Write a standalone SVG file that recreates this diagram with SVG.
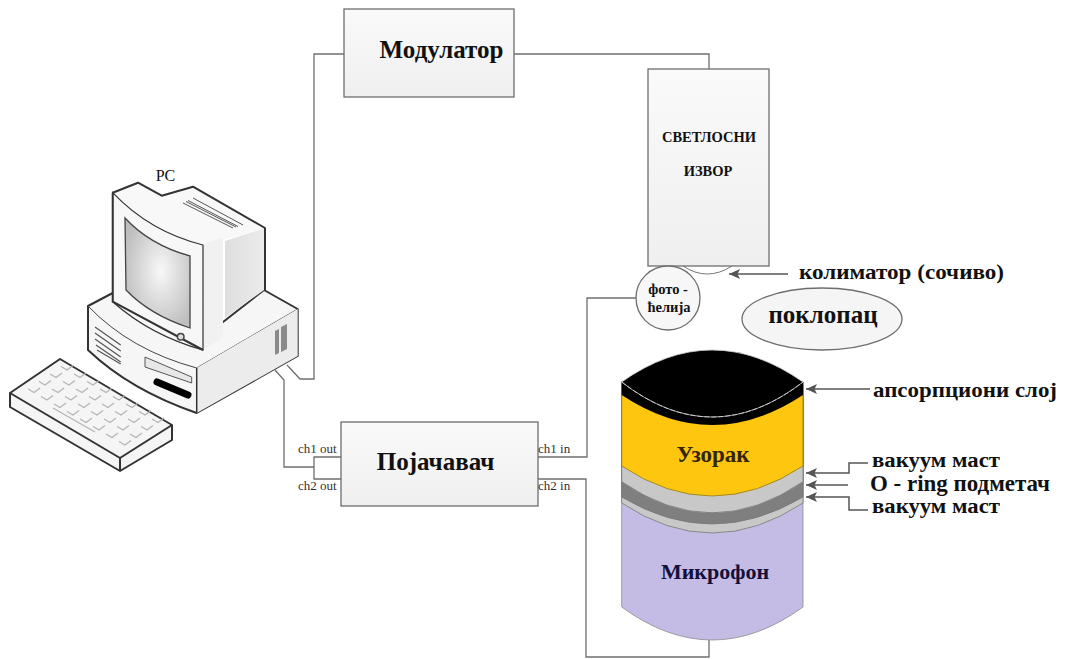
<svg xmlns="http://www.w3.org/2000/svg" xmlns:xlink="http://www.w3.org/1999/xlink" width="1065" height="659" viewBox="0 0 1065 659">
<style>
text{font-family:"Liberation Serif","Times New Roman",serif;fill:#111}
.b{font-weight:bold}
.box{stroke:#6e6e6e;stroke-width:1.3}
.w{fill:none;stroke:#6f6f6f;stroke-width:1.3}
.a{fill:none;stroke:#555;stroke-width:1.5;marker-end:url(#ah)}
.pc{stroke:#333;stroke-width:2;stroke-linejoin:round}
.small{font-size:13px;fill:#333}
.k{fill:none;stroke:#b4b4b4;stroke-width:1.2}
</style>
<defs>
<marker id="ah" markerUnits="userSpaceOnUse" markerWidth="12" markerHeight="10" refX="11" refY="5" orient="auto"><path d="M11,5L0,0L2.500,5L0,10Z" fill="#555"/></marker>
<linearGradient id="g" x1="0" y1="0" x2="0" y2="1"><stop offset="0" stop-color="#fafafa"/><stop offset="1" stop-color="#efefef"/></linearGradient>
<linearGradient id="s" x1="0" y1="0" x2="1" y2="0"><stop offset="0" stop-color="#dedede"/><stop offset="1" stop-color="#ececec"/></linearGradient>
<radialGradient id="scr" cx=".55" cy=".48" r=".6"><stop offset="0" stop-color="#f8f8f8"/><stop offset="1" stop-color="#bdbdbd"/></radialGradient>
<path id="key" d="M0,0l6,3.5l6,-4.5" class="k"/>
<g id="row"><use xlink:href="#key"/><use xlink:href="#key" x="13" y="7.5"/><use xlink:href="#key" x="26" y="15"/><use xlink:href="#key" x="39" y="22.5"/><use xlink:href="#key" x="52" y="30"/><use xlink:href="#key" x="65" y="37.5"/><use xlink:href="#key" x="78" y="45"/><use xlink:href="#key" x="91" y="52.5"/></g>
</defs>
<rect width="1065" height="659" fill="#fff"/>
<g id="connectors">
<path class="w" d="M344,54H314V379H300L287,365"/>
<path class="w" d="M275,370L284,380V467H314"/>
<path class="w" d="M341,457H314V479H341"/>
<path class="w" d="M514,54H709V69"/>
<path class="w" d="M538,457H587V298H636"/>
<path class="w" d="M538,479H586V657H709V640"/>
<path class="a" d="M788,274H729"/>
<path class="a" d="M870,389H806"/>
<path class="a" d="M868,463H849V473H806"/>
<path class="a" d="M848,485H806"/>
<path class="a" d="M868,510H849V497H806"/>
</g>
<g id="pc">
<text x="165.500" y="181" font-size="16" text-anchor="middle">PC</text>
<path d="M88,306L112.7,293L200,340L264,290L297.7,309V356L196.7,413Q130,390 88,350Z" fill="#f6f6f6" class="pc"/>
<path d="M88,306Q130,350 196.7,368L297.7,309" fill="none" stroke="#444" stroke-width="1"/>
<path d="M196.7,368L297.7,309V356L196.7,413Z" fill="#ececec"/>
<path d="M196.7,368V413" stroke="#333" stroke-width="1.5"/>
<path d="M95,327L120.7,345M95,333L120.7,351M95,339L120.7,357M96,345L120.7,362M97,350L120.7,364" fill="none" stroke="#555" stroke-width="1.2"/>
<path d="M145,357L191.7,377V383L145,367Z" fill="#e8e8e8" stroke="#555"/>
<path d="M157,382L188,395" stroke="#000" stroke-width="7" stroke-linecap="round"/>
<path d="M275,331L279,329V353L275,355Z" fill="#8a8a8a"/><path d="M281,327L287,324V349L281,352Z" fill="#8a8a8a"/>
<path d="M225,241L265,228L264,290L225,318Z" fill="url(#s)"/>
<path d="M112.7,192.7L138,182.7L161.7,195.7L193,186.7L265,228L223,240L203,245Q150,232 112.7,192.7Z" fill="#f8f8f8"/>
<path d="M203,245L223,237V337L203,350Z" fill="#f1f1f1"/>
<path d="M112.7,192.7Q150,232 203,245V350Q150,335 112.7,301.7Z" fill="#f7f7f7" stroke="#333" stroke-width="1.2"/>
<path d="M112.7,192.7L138,182.7L161.7,195.7L193,186.7L265,228V290M112.7,192.7V301.7L203,350" fill="none" class="pc"/>
<path d="M125,218Q150,245 190,256V328Q150,315 126,290Z" fill="url(#scr)" stroke="#444" stroke-width="1.3"/>
<circle cx="180.7" cy="336.7" r="3.3" fill="#ddd" stroke="#444" stroke-width="1.5"/>
<path d="M183,203L233,228M188,200.500L238,226.500M193,198L243,225M186,201.500L236,227" fill="none" stroke="#555" stroke-width="1"/>
</g>
<g id="keyboard">
<path d="M10,393L60,359L172,425V440L120,471L10,407Z" fill="#f5f5f5" class="pc"/>
<path d="M10,393L120,458L172,425M120,458V471" fill="none" class="pc"/>
<use xlink:href="#row" x="28" y="389"/><use xlink:href="#row" x="39" y="381.500"/><use xlink:href="#row" x="50" y="374"/><use xlink:href="#row" x="61" y="366.500"/>
<path d="M53,408L95,432" class="k"/>
</g>
<g id="modulator"><rect class="box" x="344" y="9" width="170" height="88" fill="url(#g)"/>
<text class="b" x="441.500" y="58" font-size="25" text-anchor="middle">Модулатор</text></g>
<g id="light-source"><path d="M683,266Q707,282 732,266" fill="#fff" stroke="#777"/><rect class="box" x="648" y="69" width="121" height="197" fill="url(#g)"/>
<text class="b" x="709" y="142" font-size="14.500" text-anchor="middle">СВЕТЛОСНИ</text>
<text class="b" x="708" y="176" font-size="14.500" text-anchor="middle">ИЗВОР</text></g>
<g id="photocell"><circle class="box" cx="668" cy="298" r="32" fill="#f7f7f7"/>
<text class="b" x="668" y="294" font-size="14.500" text-anchor="middle">фото -</text>
<text class="b" x="669" y="312" font-size="14.500" text-anchor="middle">ћелија</text></g>
<g id="cover"><ellipse class="box" cx="822" cy="319" rx="80" ry="31" fill="#f5f5f5"/>
<text class="b" x="823" y="323" font-size="25" text-anchor="middle">поклопац</text></g>
<g id="amplifier"><rect class="box" x="341" y="422" width="197" height="84" fill="url(#g)"/>
<text class="b" x="435.500" y="470" font-size="25" text-anchor="middle">Појачавач</text>
<text class="small" x="298" y="453">ch1 out</text><text class="small" x="298" y="490">ch2 out</text>
<text class="small" x="538" y="453">ch1 in</text><text class="small" x="538" y="490">ch2 in</text></g>
<g id="stack" stroke-width=".8">
<path d="M621.700,382V607Q712,673 803,607V382Z" fill="#c4bce4" stroke="#8a8a8a"/>
<path d="M621.700,382V503Q712,563 803,503V382Z" fill="#c8c8c8" stroke="#777"/>
<path d="M621.700,382V497Q712,551 803,497V382Z" fill="#7f7f7f" stroke="#777"/>
<path d="M621.700,382V481.700Q712,544 803,481.700V382Z" fill="#c8c8c8" stroke="#777"/>
<path d="M621.700,382V466Q712,526 803,466V382Z" fill="#ffc60f" stroke="#8a7a20"/>
<path d="M621.700,382V395Q712,455 803,395V382Z" fill="#000"/>
<path d="M621.700,382Q712,318 803,382Q712,452 621.700,382Z" fill="#000" stroke="#ccc"/>
<path d="M621.700,382Q712,452 803,382" fill="none" stroke="#ddd" stroke-dasharray="5 2"/>
<text class="b" x="713" y="462" font-size="23" text-anchor="middle" style="fill:#33240a">Узорак</text>
<text class="b" x="715" y="579" font-size="22" text-anchor="middle" style="fill:#14103a">Микрофон</text>
</g>
<g id="labels">
<text class="b" x="799" y="279" font-size="21" textLength="205" lengthAdjust="spacingAndGlyphs">колиматор (сочиво)</text>
<text class="b" x="873" y="397" font-size="21" textLength="184" lengthAdjust="spacingAndGlyphs">апсорпциони слој</text>
<text class="b" x="872" y="467" font-size="20" textLength="128" lengthAdjust="spacingAndGlyphs">вакуум маст</text>
<text class="b" x="870" y="491" font-size="23" textLength="180" lengthAdjust="spacingAndGlyphs">O - ring подметач</text>
<text class="b" x="872" y="513" font-size="20" textLength="128" lengthAdjust="spacingAndGlyphs">вакуум маст</text>
</g>
</svg>
